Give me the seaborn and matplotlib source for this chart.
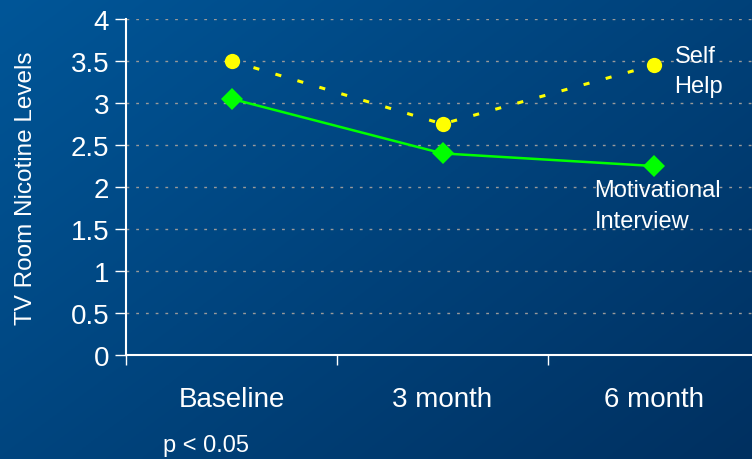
import numpy as np
import pandas as pd
import matplotlib
matplotlib.use("Agg")
import matplotlib.pyplot as plt
import seaborn as sns

# dados
momentos = ["Baseline", "3 month", "6 month"]
self_help = [3.5, 2.75, 3.45]
motivational = [3.05, 2.4, 2.25]
yticks = [0, 0.5, 1, 1.5, 2, 2.5, 3, 3.5, 4]

sns.set_style("white")
plt.rcParams['font.family'] = ['Liberation Sans', 'DejaVu Sans']

fig = plt.figure(figsize=(7.52, 4.6), dpi=100)

# fundo em degradê azul
bg = fig.add_axes([0, 0, 1, 1], zorder=-10)
yy, xx = np.mgrid[0:1:200j, 0:1:200j]
t = (xx * 0.55 + yy * 0.45)
c1 = np.array([0x00, 0x56, 0x98]) / 255
c2 = np.array([0x00, 0x30, 0x60]) / 255
img = c1[None, None, :] * (1 - t[..., None]) + c2[None, None, :] * t[..., None]
bg.imshow(img, aspect='auto', extent=[0, 1, 0, 1])
bg.axis('off')

ax = fig.add_axes([126 / 752, 104 / 460, 633 / 752, 336 / 460])
ax.patch.set_alpha(0)

df_sh = pd.DataFrame({"momento": momentos, "valor": self_help})
df_mi = pd.DataFrame({"momento": momentos, "valor": motivational})

sns.lineplot(data=df_mi, x="momento", y="valor", ax=ax, color="#00FF00",
             linewidth=1.8, marker="D", markersize=11, markeredgewidth=0, zorder=3)
sns.lineplot(data=df_sh, x="momento", y="valor", ax=ax, color="#FFFF00",
             linewidth=2.2, marker="o", markersize=11, markeredgewidth=0, zorder=4)
ax.lines[-1].set_dashes((2, 5.5))

ax.set_xlim(-0.5, 2.5)
ax.set_ylim(0, 4)
ax.set_yticks(yticks)
ax.set_yticklabels([f"{v:g}" for v in yticks], fontsize=20, color="white")
ax.set_xticks(range(len(momentos)))
ax.set_xticklabels(momentos, fontsize=20, color="white")
ax.set_xticks([-0.5, 0.5, 1.5, 2.5], minor=True)
ax.tick_params(axis='x', which='major', length=0, pad=22, bottom=True)
ax.tick_params(axis='x', which='minor', length=7, color='white', width=1,
               direction='out', bottom=True)
ax.tick_params(axis='y', length=8, color='white', width=1, direction='out',
               pad=4, left=True)

for y in yticks[1:]:
    ax.axhline(y, color="#9A9A9A", linestyle=(0, (2, 5)), linewidth=1, zorder=1)

for s in ['top', 'right']:
    ax.spines[s].set_visible(False)
for s in ['left', 'bottom']:
    ax.spines[s].set_color('white')
    ax.spines[s].set_linewidth(1.5)

ax.set_xlabel("")
ax.set_ylabel("TV Room Nicotine Levels", fontsize=17.5, color="white", labelpad=24)

ax.text(2.1, 3.38, "Self\nHelp", fontsize=17, color="white", va="center",
        ha="left", linespacing=1.5)
ax.text(1.72, 1.78, "Motivational\nInterview", fontsize=17, color="white",
        va="center", ha="left", linespacing=1.5)
fig.text(163 / 752, 1 - 446 / 460, "p < 0.05", fontsize=17, color="white",
         va="center", ha="left")

fig.savefig("out.png", dpi=100)
